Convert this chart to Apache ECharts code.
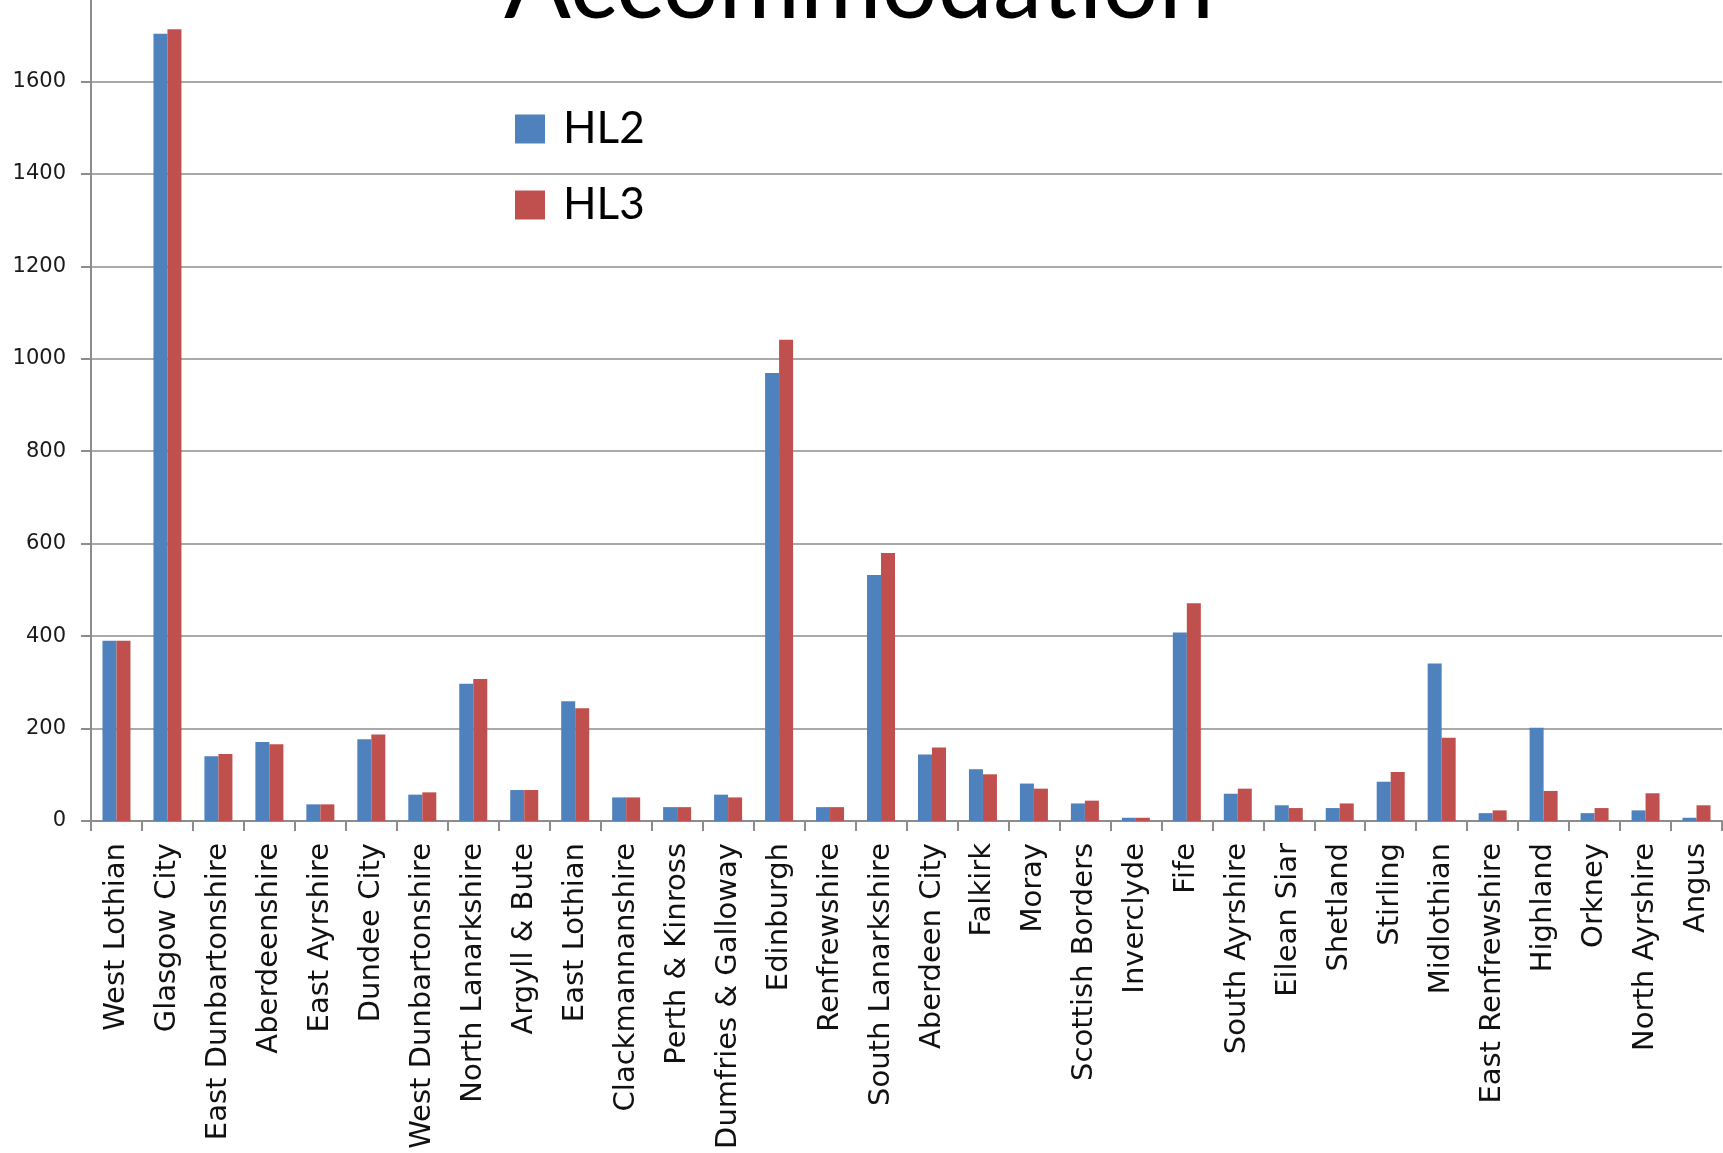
<!DOCTYPE html>
<html>
<head>
<meta charset="utf-8">
<title>Accommodation</title>
<script src="https://cdn.jsdelivr.net/npm/echarts@6/dist/echarts.min.js"></script>
<style>
  html, body { margin: 0; padding: 0; background: #fff; }
  #chart { width: 1723px; height: 1153px; }
</style>
</head>
<body>
<div id="chart"></div>
<script>
// council areas, left to right
const categories = [
  'West Lothian', 'Glasgow City', 'East Dunbartonshire', 'Aberdeenshire', 'East Ayrshire',
  'Dundee City', 'West Dunbartonshire', 'North Lanarkshire', 'Argyll & Bute', 'East Lothian',
  'Clackmannanshire', 'Perth & Kinross', 'Dumfries & Galloway', 'Edinburgh', 'Renfrewshire',
  'South Lanarkshire', 'Aberdeen City', 'Falkirk', 'Moray', 'Scottish Borders',
  'Inverclyde', 'Fife', 'South Ayrshire', 'Eilean Siar', 'Shetland',
  'Stirling', 'Midlothian', 'East Renfrewshire', 'Highland', 'Orkney',
  'North Ayrshire', 'Angus'
];
const hl2 = [390, 1703, 140, 171, 36, 177, 57, 297, 67, 259, 51, 30, 57, 969, 30,
  532, 144, 112, 81, 38, 7, 408, 59, 34, 28, 85, 341, 17, 202, 17, 23, 7];
const hl3 = [390, 1713, 145, 166, 36, 187, 62, 307, 67, 244, 51, 30, 51, 1041, 30,
  580, 159, 101, 70, 44, 7, 471, 70, 28, 38, 106, 180, 23, 65, 28, 60, 34];
const seriesNames = ['HL2', 'HL3'];

const chart = echarts.init(document.getElementById('chart'));
const grey = '#8c8c8c';

const option = {
  animation: false,
  color: ['#4f81bd', '#c0504d'],
  title: {
    text: 'Accommodation',
    left: 499,
    top: -68,
    textStyle: { fontFamily: 'Lato', fontSize: 99, fontWeight: 'normal', color: '#000' }
  },
  legend: {
    data: seriesNames,
    orient: 'vertical',
    left: 510,
    top: 102,
    icon: 'rect',
    itemWidth: 30,
    itemHeight: 29,
    itemGap: 32,
    textStyle: { fontFamily: 'Lato', fontSize: 44, color: '#000', padding: [0, 0, 0, 13] }
  },
  grid: { left: 91, right: 1, top: -11, bottom: 332, containLabel: false, outerBoundsMode: 'none' },
  xAxis: {
    type: 'category',
    data: categories,
    axisLine: { lineStyle: { color: grey, width: 2 } },
    axisTick: { show: true, length: 10, interval: 0, lineStyle: { color: grey, width: 2 } },
    axisLabel: {
      interval: 0,
      rotate: 90,
      margin: 22,
      fontFamily: 'DejaVu Sans',
      fontSize: 29,
      color: '#111'
    }
  },
  yAxis: {
    type: 'value',
    min: 0,
    max: 1800,
    interval: 200,
    axisLine: { show: true, lineStyle: { color: grey, width: 2 } },
    axisTick: { show: true, length: 10, lineStyle: { color: grey, width: 2 } },
    axisLabel: {
      margin: 25,
      fontFamily: 'DejaVu Sans',
      fontSize: 21,
      color: '#1a1a1a',
      formatter: (v) => String(v)
    },
    splitLine: { lineStyle: { color: grey, width: 1.5 } }
  },
  series: [
    { name: seriesNames[0], type: 'bar', data: hl2, barWidth: 14, barGap: '0%' },
    { name: seriesNames[1], type: 'bar', data: hl3, barWidth: 14, barGap: '0%' }
  ]
};

chart.setOption(option);
</script>
</body>
</html>
